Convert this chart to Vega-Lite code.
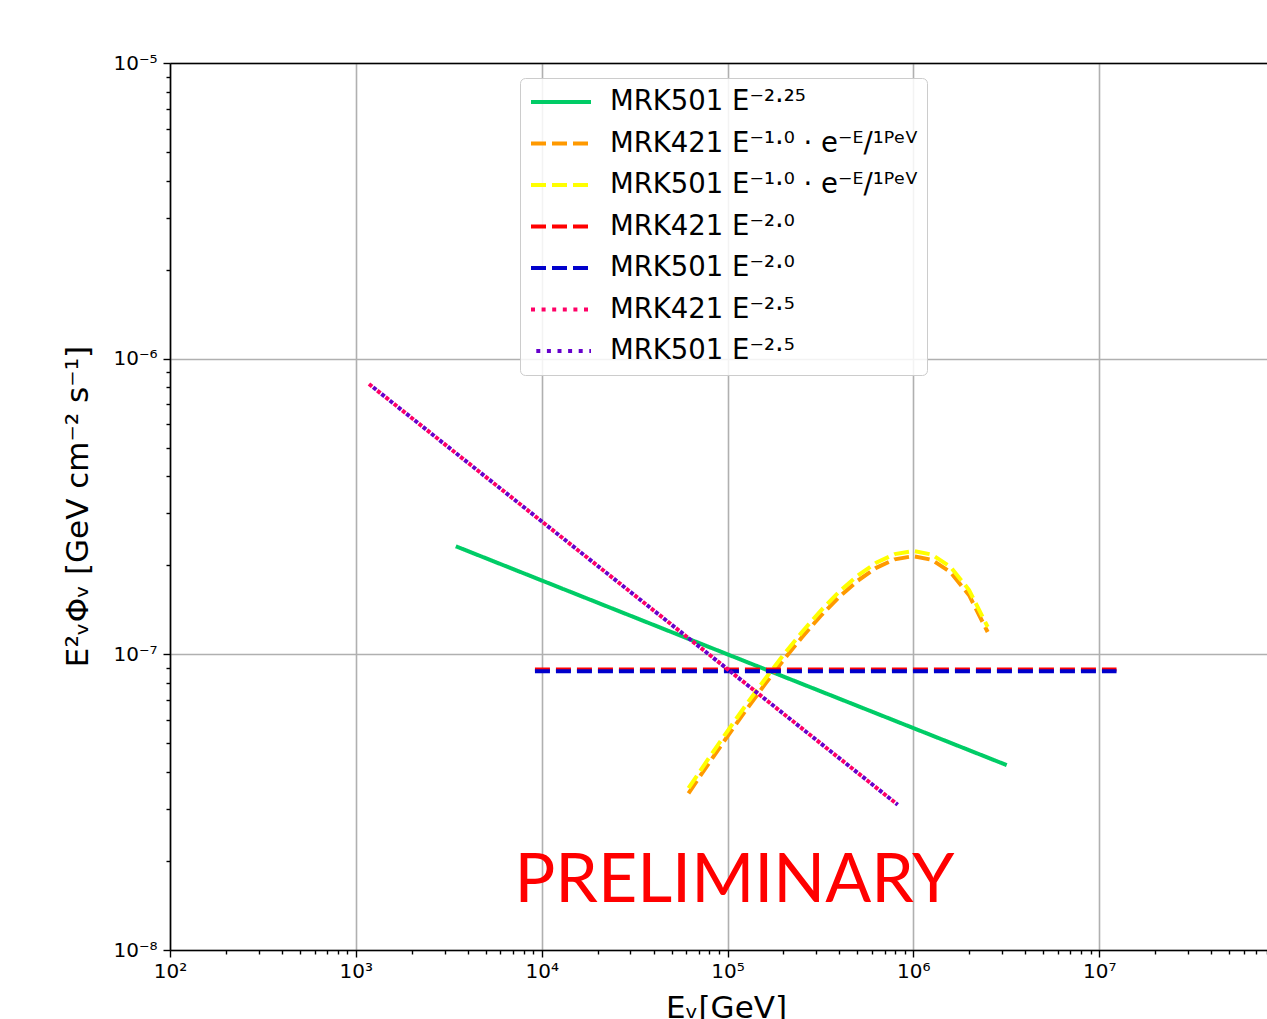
{
  "$schema": "https://vega.github.io/schema/vega-lite/v6.json",
  "width": 1097,
  "height": 887,
  "autosize": {"type": "none"},
  "padding": {"left": 170, "top": 63, "right": 0, "bottom": 69},
  "background": "white",
  "config": {"view": {"stroke": null}, "font": "DejaVu Sans"},
  "layer": [
    {
      "data": {"values": [
        {"series": "MRK501 E⁻²·²⁵", "E": 3450, "flux": 2.32e-7},
        {"series": "MRK501 E⁻²·²⁵", "E": 100000, "flux": 1.0e-7},
        {"series": "MRK501 E⁻²·²⁵", "E": 3180000, "flux": 4.22e-8},
        {"series": "MRK421 E⁻¹·⁰ · e⁻ᴱ/¹ᴾᵉⱽ", "E": 61660, "flux": 3.386e-8},
        {"series": "MRK421 E⁻¹·⁰ · e⁻ᴱ/¹ᴾᵉⱽ", "E": 79433, "flux": 4.285e-8},
        {"series": "MRK421 E⁻¹·⁰ · e⁻ᴱ/¹ᴾᵉⱽ", "E": 100000, "flux": 5.284e-8},
        {"series": "MRK421 E⁻¹·⁰ · e⁻ᴱ/¹ᴾᵉⱽ", "E": 125893, "flux": 6.482e-8},
        {"series": "MRK421 E⁻¹·⁰ · e⁻ᴱ/¹ᴾᵉⱽ", "E": 158489, "flux": 7.899e-8},
        {"series": "MRK421 E⁻¹·⁰ · e⁻ᴱ/¹ᴾᵉⱽ", "E": 199526, "flux": 9.544e-8},
        {"series": "MRK421 E⁻¹·⁰ · e⁻ᴱ/¹ᴾᵉⱽ", "E": 251189, "flux": 1.141e-7},
        {"series": "MRK421 E⁻¹·⁰ · e⁻ᴱ/¹ᴾᵉⱽ", "E": 316228, "flux": 1.346e-7},
        {"series": "MRK421 E⁻¹·⁰ · e⁻ᴱ/¹ᴾᵉⱽ", "E": 398107, "flux": 1.561e-7},
        {"series": "MRK421 E⁻¹·⁰ · e⁻ᴱ/¹ᴾᵉⱽ", "E": 501187, "flux": 1.773e-7},
        {"series": "MRK421 E⁻¹·⁰ · e⁻ᴱ/¹ᴾᵉⱽ", "E": 630957, "flux": 1.961e-7},
        {"series": "MRK421 E⁻¹·⁰ · e⁻ᴱ/¹ᴾᵉⱽ", "E": 794328, "flux": 2.096e-7},
        {"series": "MRK421 E⁻¹·⁰ · e⁻ᴱ/¹ᴾᵉⱽ", "E": 1000000, "flux": 2.148e-7},
        {"series": "MRK421 E⁻¹·⁰ · e⁻ᴱ/¹ᴾᵉⱽ", "E": 1258925, "flux": 2.088e-7},
        {"series": "MRK421 E⁻¹·⁰ · e⁻ᴱ/¹ᴾᵉⱽ", "E": 1584893, "flux": 1.897e-7},
        {"series": "MRK421 E⁻¹·⁰ · e⁻ᴱ/¹ᴾᵉⱽ", "E": 1995262, "flux": 1.585e-7},
        {"series": "MRK421 E⁻¹·⁰ · e⁻ᴱ/¹ᴾᵉⱽ", "E": 2511886, "flux": 1.19e-7},
        {"series": "MRK501 E⁻¹·⁰ · e⁻ᴱ/¹ᴾᵉⱽ", "E": 61660, "flux": 3.525e-8},
        {"series": "MRK501 E⁻¹·⁰ · e⁻ᴱ/¹ᴾᵉⱽ", "E": 79433, "flux": 4.461e-8},
        {"series": "MRK501 E⁻¹·⁰ · e⁻ᴱ/¹ᴾᵉⱽ", "E": 100000, "flux": 5.501e-8},
        {"series": "MRK501 E⁻¹·⁰ · e⁻ᴱ/¹ᴾᵉⱽ", "E": 125893, "flux": 6.749e-8},
        {"series": "MRK501 E⁻¹·⁰ · e⁻ᴱ/¹ᴾᵉⱽ", "E": 158489, "flux": 8.223e-8},
        {"series": "MRK501 E⁻¹·⁰ · e⁻ᴱ/¹ᴾᵉⱽ", "E": 199526, "flux": 9.937e-8},
        {"series": "MRK501 E⁻¹·⁰ · e⁻ᴱ/¹ᴾᵉⱽ", "E": 251189, "flux": 1.188e-7},
        {"series": "MRK501 E⁻¹·⁰ · e⁻ᴱ/¹ᴾᵉⱽ", "E": 316228, "flux": 1.401e-7},
        {"series": "MRK501 E⁻¹·⁰ · e⁻ᴱ/¹ᴾᵉⱽ", "E": 398107, "flux": 1.626e-7},
        {"series": "MRK501 E⁻¹·⁰ · e⁻ᴱ/¹ᴾᵉⱽ", "E": 501187, "flux": 1.846e-7},
        {"series": "MRK501 E⁻¹·⁰ · e⁻ᴱ/¹ᴾᵉⱽ", "E": 630957, "flux": 2.041e-7},
        {"series": "MRK501 E⁻¹·⁰ · e⁻ᴱ/¹ᴾᵉⱽ", "E": 794328, "flux": 2.182e-7},
        {"series": "MRK501 E⁻¹·⁰ · e⁻ᴱ/¹ᴾᵉⱽ", "E": 1000000, "flux": 2.237e-7},
        {"series": "MRK501 E⁻¹·⁰ · e⁻ᴱ/¹ᴾᵉⱽ", "E": 1258925, "flux": 2.174e-7},
        {"series": "MRK501 E⁻¹·⁰ · e⁻ᴱ/¹ᴾᵉⱽ", "E": 1584893, "flux": 1.975e-7},
        {"series": "MRK501 E⁻¹·⁰ · e⁻ᴱ/¹ᴾᵉⱽ", "E": 1995262, "flux": 1.65e-7},
        {"series": "MRK501 E⁻¹·⁰ · e⁻ᴱ/¹ᴾᵉⱽ", "E": 2511886, "flux": 1.238e-7},
        {"series": "MRK421 E⁻²·⁰", "E": 9200, "flux": 8.88e-8},
        {"series": "MRK421 E⁻²·⁰", "E": 12400000, "flux": 8.88e-8},
        {"series": "MRK501 E⁻²·⁰", "E": 9200, "flux": 8.76e-8},
        {"series": "MRK501 E⁻²·⁰", "E": 12400000, "flux": 8.76e-8},
        {"series": "MRK421 E⁻²·⁵", "E": 1177, "flux": 8.21e-7},
        {"series": "MRK421 E⁻²·⁵", "E": 100000, "flux": 8.91e-8},
        {"series": "MRK421 E⁻²·⁵", "E": 824000, "flux": 3.1e-8},
        {"series": "MRK501 E⁻²·⁵", "E": 1177, "flux": 8.21e-7},
        {"series": "MRK501 E⁻²·⁵", "E": 100000, "flux": 8.91e-8},
        {"series": "MRK501 E⁻²·⁵", "E": 824000, "flux": 3.1e-8}
      ]},
      "mark": {"type": "line", "strokeWidth": 4, "strokeCap": "butt"},
      "encoding": {
        "x": {
          "field": "E", "type": "quantitative",
          "scale": {"type": "log", "domain": [100, 80000000]},
          "axis": {
            "orient": "bottom",
            "values": [100,200,300,400,500,600,700,800,900,1000,2000,3000,4000,5000,6000,7000,8000,9000,10000,20000,30000,40000,50000,60000,70000,80000,90000,100000,200000,300000,400000,500000,600000,700000,800000,900000,1000000,2000000,3000000,4000000,5000000,6000000,7000000,8000000,9000000,10000000,20000000,30000000,40000000,50000000,60000000,70000000,80000000],
            "labelExpr": "abs(log(datum.value)/LN10 - round(log(datum.value)/LN10)) < 0.001 ? '10' + (round(log(datum.value)/LN10) < 0 ? '⁻' : '') + ['⁰','¹','²','³','⁴','⁵','⁶','⁷','⁸','⁹'][abs(round(log(datum.value)/LN10))] : ''",
            "labelOverlap": false,
            "labelFontSize": 20,
            "labelColor": "black",
            "labelPadding": 4,
            "labelFlush": false,
            "tickColor": "black",
            "tickWidth": 1.4,
            "tickSize": {"condition": {"test": "abs(log(datum.value)/LN10 - round(log(datum.value)/LN10)) < 0.001", "value": 7}, "value": 4},
            "domainColor": "black",
            "domainWidth": 1.6,
            "grid": true,
            "gridColor": "#b0b0b0",
            "gridWidth": 1.6,
            "gridOpacity": {"condition": {"test": "abs(log(datum.value)/LN10 - round(log(datum.value)/LN10)) < 0.001", "value": 1}, "value": 0},
            "title": "Eᵥ[GeV]",
            "titleFontSize": 31,
            "titleFontWeight": "normal",
            "titleColor": "black",
            "titleX": 556,
            "titleY": 67,
            "titleBaseline": "alphabetic",
            "titleAlign": "center"
          }
        },
        "y": {
          "field": "flux", "type": "quantitative",
          "scale": {"type": "log", "domain": [1e-8, 1e-5]},
          "axis": {
            "values": [1e-8,2e-8,3e-8,4e-8,5e-8,6e-8,7e-8,8e-8,9e-8,1e-7,2e-7,3e-7,4e-7,5e-7,6e-7,7e-7,8e-7,9e-7,1e-6,2e-6,3e-6,4e-6,5e-6,6e-6,7e-6,8e-6,9e-6,1e-5],
            "labelExpr": "abs(log(datum.value)/LN10 - round(log(datum.value)/LN10)) < 0.001 ? '10' + (round(log(datum.value)/LN10) < 0 ? '⁻' : '') + ['⁰','¹','²','³','⁴','⁵','⁶','⁷','⁸','⁹'][abs(round(log(datum.value)/LN10))] : ''",
            "labelOverlap": false,
            "labelFontSize": 20,
            "labelColor": "black",
            "labelPadding": 6,
            "labelFlush": false,
            "tickColor": "black",
            "tickWidth": 1.4,
            "tickSize": {"condition": {"test": "abs(log(datum.value)/LN10 - round(log(datum.value)/LN10)) < 0.001", "value": 7}, "value": 4},
            "domainColor": "black",
            "domainWidth": 1.6,
            "grid": true,
            "gridColor": "#b0b0b0",
            "gridWidth": 1.6,
            "gridOpacity": {"condition": {"test": "abs(log(datum.value)/LN10 - round(log(datum.value)/LN10)) < 0.001", "value": 1}, "value": 0},
            "title": "E²ᵥΦᵥ [GeV cm⁻² s⁻¹]",
            "titleFontSize": 31,
            "titleFontWeight": "normal",
            "titleColor": "black",
            "titleX": -92,
            "titleY": 443,
            "titleAngle": 270,
            "titleBaseline": "middle",
            "titleAlign": "center"
          }
        },
        "color": {
          "field": "series", "type": "nominal",
          "scale": {
            "domain": ["MRK501 E⁻²·²⁵", "MRK421 E⁻¹·⁰ · e⁻ᴱ/¹ᴾᵉⱽ", "MRK501 E⁻¹·⁰ · e⁻ᴱ/¹ᴾᵉⱽ", "MRK421 E⁻²·⁰", "MRK501 E⁻²·⁰", "MRK421 E⁻²·⁵", "MRK501 E⁻²·⁵"],
            "range": ["#00cc66", "#ff9900", "#ffff00", "#ff0000", "#0000cc", "#ff0066", "#6600cc"]
          },
          "legend": {
            "title": null, "orient": "none", "legendX": 350, "legendY": 15,
            "symbolType": "stroke", "symbolSize": 3600, "symbolStrokeWidth": 4,
            "labelFontSize": 27.5, "labelFont": "DejaVu Sans", "labelColor": "black",
            "labelOffset": 17, "labelLimit": 0, "clipHeight": 30, "rowPadding": 11.5,
            "padding": 9, "strokeColor": "#cccccc", "fillColor": "rgba(255,255,255,0.85)", "cornerRadius": 5
          }
        },
        "strokeDash": {
          "field": "series", "type": "nominal",
          "scale": {
            "domain": ["MRK501 E⁻²·²⁵", "MRK421 E⁻¹·⁰ · e⁻ᴱ/¹ᴾᵉⱽ", "MRK501 E⁻¹·⁰ · e⁻ᴱ/¹ᴾᵉⱽ", "MRK421 E⁻²·⁰", "MRK501 E⁻²·⁰", "MRK421 E⁻²·⁵", "MRK501 E⁻²·⁵"],
            "range": [[1, 0], [15, 6], [15, 6], [15, 6], [15, 6], [4, 6.6], [0, 5.3, 4, 1.3]]
          },
          "legend": {
            "title": null, "orient": "none", "legendX": 350, "legendY": 15,
            "symbolType": "stroke", "symbolSize": 3600, "symbolStrokeWidth": 4,
            "labelFontSize": 27.5, "labelFont": "DejaVu Sans", "labelColor": "black",
            "labelOffset": 17, "labelLimit": 0, "clipHeight": 30, "rowPadding": 11.5,
            "padding": 9, "strokeColor": "#cccccc", "fillColor": "rgba(255,255,255,0.85)", "cornerRadius": 5
          }
        }
      }
    },
    {
      "data": {"values": [{"E": 109000, "flux": 1.453e-8, "label": "PRELIMINARY"}]},
      "mark": {"type": "text", "fontSize": 68, "font": "Lato", "color": "#ff0000", "align": "center", "baseline": "alphabetic"},
      "encoding": {
        "x": {
          "field": "E", "type": "quantitative",
          "scale": {"type": "log", "domain": [100, 80000000]},
          "axis": {"orient": "top", "labels": false, "ticks": false, "grid": false, "title": null, "domain": true, "domainColor": "black", "domainWidth": 1.6}
        },
        "y": {
          "field": "flux", "type": "quantitative",
          "scale": {"type": "log", "domain": [1e-8, 1e-5]},
          "axis": null
        },
        "text": {"field": "label", "type": "nominal"}
      }
    }
  ],
  "resolve": {"axis": {"x": "independent", "y": "independent"}}
}
